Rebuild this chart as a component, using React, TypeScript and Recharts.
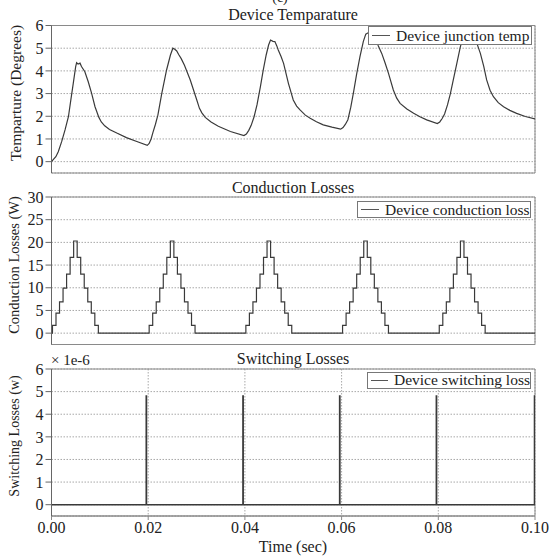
import React from 'react';
import { LineChart, Line, XAxis, YAxis, CartesianGrid, ReferenceArea } from 'recharts';

const FONT = '"Liberation Serif", "Times New Roman", serif';

const xTicks = [0, 0.02, 0.04, 0.06, 0.08, 0.1];
const tempTicks = [0, 1, 2, 3, 4, 5, 6];
const condTicks = [0, 5, 10, 15, 20, 25, 30];
const swTicks = [0, 1, 2, 3, 4, 5, 6];

// Device junction temperature (time in s, temperature in degrees)
const tempTime = [
  0, 0.0004, 0.0009, 0.0014, 0.0021, 0.0028, 0.0035, 0.004, 0.0045, 0.005, 0.0052, 0.0055, 0.0059, 0.0062, 0.0069, 0.0076, 0.0083, 0.009, 0.0098, 0.0103, 0.011, 0.012, 0.0135, 0.0155, 0.0175, 0.0198,
  0.0202, 0.0206, 0.021, 0.0215, 0.022, 0.0228, 0.0238, 0.0246, 0.0251, 0.0255, 0.0259, 0.0263, 0.0268, 0.0275, 0.0287, 0.03, 0.0306, 0.0311, 0.0318, 0.033, 0.0345, 0.037, 0.0398,
  0.0403, 0.0408, 0.0413, 0.0419, 0.0425, 0.0432, 0.0438, 0.0444, 0.0449, 0.0453, 0.0458, 0.0462, 0.0466, 0.0469, 0.0475, 0.048, 0.049, 0.05, 0.0507, 0.0514, 0.0525, 0.0535, 0.0548, 0.0562, 0.058, 0.0598,
  0.0603, 0.0608, 0.0613, 0.0619, 0.0625, 0.0631, 0.0638, 0.0645, 0.065, 0.0655, 0.066, 0.0665, 0.0669, 0.0676, 0.0683, 0.069, 0.0697, 0.0707, 0.0714, 0.0721, 0.0735, 0.0749, 0.0762, 0.0776, 0.0798,
  0.0803, 0.0808, 0.0813, 0.0819, 0.0825, 0.0831, 0.0838, 0.0845, 0.0852, 0.0857, 0.0862, 0.0868, 0.0873, 0.088, 0.0887, 0.0894, 0.09, 0.0907, 0.0914, 0.0924, 0.0935, 0.0948, 0.0962, 0.098, 0.1,
];
const tempValue = [
  0, 0.1, 0.22, 0.44, 0.88, 1.4, 1.98, 2.72, 3.45, 4.19, 4.36, 4.3, 4.34, 4.19, 3.96, 3.52, 3.01, 2.42, 1.95, 1.75, 1.58, 1.42, 1.26, 1.06, 0.9, 0.72,
  0.8, 1.0, 1.3, 1.65, 2.05, 3.0, 4.04, 4.7, 5.0, 4.95, 4.88, 4.72, 4.55, 4.25, 3.6, 2.75, 2.35, 2.15, 1.95, 1.75, 1.56, 1.33, 1.15,
  1.22, 1.38, 1.6, 1.98, 2.5, 3.3, 4.04, 4.7, 5.14, 5.36, 5.3, 5.29, 5.1, 4.92, 4.62, 4.33, 3.45, 2.72, 2.45, 2.28, 2.05, 1.91, 1.76, 1.62, 1.52, 1.43,
  1.5, 1.65, 1.85, 2.4, 3.1, 3.85, 4.63, 5.3, 5.62, 5.68, 5.7, 5.62, 5.5, 5.1, 4.77, 4.35, 3.89, 3.16, 2.8, 2.57, 2.32, 2.13, 1.98, 1.84, 1.68,
  1.75, 1.9, 2.1, 2.5, 3.0, 3.6, 4.3, 5.0, 5.6, 5.85, 5.9, 5.8, 5.66, 5.2, 4.77, 4.2, 3.6, 3.15, 2.86, 2.6, 2.42, 2.26, 2.13, 1.99, 1.88,
];

// Conduction loss: one staircase pulse per cycle
const cycleStarts = [0, 0.02, 0.04, 0.06, 0.08];
const pulseOffsets = [0, 0.0002, 0.00093, 0.00166, 0.00239, 0.00312, 0.00385, 0.00458, 0.00531, 0.00604, 0.00677, 0.0075, 0.00823, 0.00896, 0.00969];
const pulseLevels = [0, 1.7, 4.4, 6.9, 9.9, 13.0, 16.7, 20.3, 16.7, 13.0, 9.9, 6.9, 4.4, 1.7, 0];

// Switching loss spikes (x 1e-6 W)
const spikeTimes = [0.0196, 0.0396, 0.0596, 0.0796, 0.0999];
const spikeHeight = 4.8;
const spikeWidth = 0.00004;

const tempData = tempTime.map((t, i) => ({ t, v: tempValue[i] }));

const condData: { t: number; v: number }[] = [];
cycleStarts.forEach((c) => {
  pulseOffsets.forEach((o, i) => condData.push({ t: c + o, v: pulseLevels[i] }));
});
condData.push({ t: 0.1, v: 0 });

const swData: { t: number; v: number }[] = [{ t: 0, v: 0 }];
spikeTimes.forEach((s) => {
  swData.push({ t: s, v: 0 });
  swData.push({ t: s, v: spikeHeight });
  swData.push({ t: s + spikeWidth, v: spikeHeight });
  swData.push({ t: s + spikeWidth, v: 0 });
});
swData.push({ t: 0.1, v: 0 });

const LINE = '#3a3a3a';
const FRAME = '#8a8a8a';
const GRID = '#a8a8a8';

type PanelProps = {
  top: number;
  height: number;
  mTop: number;
  mBottom: number;
  data: { t: number; v: number }[];
  domain: [number, number];
  ticks: number[];
  showX: boolean;
  step?: boolean;
  width?: number;
};

function Panel(p: PanelProps) {
  return (
    <div style={{ position: 'absolute', left: 0, top: p.top, width: 549, height: p.height }}>
      <LineChart
        width={549}
        height={p.height}
        data={p.data}
        margin={{ top: p.mTop, right: 14, bottom: p.mBottom, left: 0 }}
      >
        <CartesianGrid stroke={GRID} strokeDasharray="1.5 1.5" />
        <ReferenceArea
          x1={0}
          x2={0.1}
          y1={p.domain[0]}
          y2={p.domain[1]}
          fill="none"
          fillOpacity={0}
          stroke={FRAME}
          strokeWidth={1}
          ifOverflow="visible"
        />
        <XAxis
          dataKey="t"
          type="number"
          domain={[0, 0.1]}
          ticks={xTicks}
          allowDataOverflow
          height={p.showX ? 30 : 0}
          tick={p.showX ? { fill: '#222', fontSize: 16, fontFamily: FONT } : false}
          tickLine={p.showX ? { stroke: FRAME } : false}
          tickSize={4}
          axisLine={{ stroke: FRAME }}
          tickFormatter={(v: number) => v.toFixed(2)}
          interval={0}
        />
        <YAxis
          type="number"
          domain={p.domain}
          ticks={p.ticks}
          allowDataOverflow
          width={51.5}
          tickSize={6}
          tickMargin={2}
          tick={{ fill: '#222', fontSize: 16, fontFamily: FONT }}
          tickLine={{ stroke: '#666' }}
          axisLine={{ stroke: '#666' }}
          interval={0}
        />
        <Line
          dataKey="v"
          type={p.step ? 'stepAfter' : 'linear'}
          stroke={LINE}
          strokeWidth={p.width ?? 1.2}
          dot={false}
          isAnimationActive={false}
        />
      </LineChart>
    </div>
  );
}

function LegendBox({ left, top, width, height, label }: { left: number; top: number; width: number; height: number; label: string }) {
  return (
    <div
      style={{
        position: 'absolute',
        left,
        top,
        width,
        height,
        boxSizing: 'border-box',
        border: '1px solid #777',
        background: '#fff',
        fontFamily: FONT,
        fontSize: 15.5,
        color: '#222',
        display: 'flex',
        alignItems: 'center',
        whiteSpace: 'nowrap',
        zIndex: 5,
      }}
    >
      <span style={{ display: 'inline-block', width: 18, height: 0, borderTop: '1.2px solid #555', marginLeft: 3, marginRight: 6 }} />
      <span style={{ lineHeight: 1 }}>{label}</span>
    </div>
  );
}

export default function App() {
  const txt = { fontFamily: FONT, fill: '#222' } as const;
  return (
    <div style={{ position: 'absolute', left: 0, top: 0, width: 549, height: 560, background: '#fff', overflow: 'hidden' }}>
      <Panel top={0} height={180} mTop={25.5} mBottom={7} data={tempData} domain={[-0.5, 6]} ticks={tempTicks} showX={false} />
      <Panel top={180} height={170} mTop={17} mBottom={5.5} data={condData} domain={[-2.5, 30]} ticks={condTicks} showX={false} step />
      <Panel top={350} height={210} mTop={19} mBottom={14} data={swData} domain={[-0.5, 6]} ticks={swTicks} showX width={1.6} />

      <svg width={549} height={560} style={{ position: 'absolute', left: 0, top: 0, pointerEvents: 'none', zIndex: 4 }}>
        <text x={280} y={2} textAnchor="middle" fontSize={14} {...txt}>(c)</text>
        <text x={293} y={20} textAnchor="middle" fontSize={16} {...txt}>Device Temparature</text>
        <text x={293} y={192.5} textAnchor="middle" fontSize={16} {...txt}>Conduction Losses</text>
        <text x={293} y={364} textAnchor="middle" fontSize={16} {...txt}>Switching Losses</text>
        <text x={51} y={365} fontSize={15} {...txt}>× 1e-6</text>
        <text x={293} y={552} textAnchor="middle" fontSize={16} {...txt}>Time (sec)</text>
        <text transform="translate(15,93) rotate(-90)" textAnchor="middle" dominantBaseline="central" fontSize={15.5} {...txt}>Temparture (Degrees)</text>
        <text transform="translate(13.5,265) rotate(-90)" textAnchor="middle" dominantBaseline="central" fontSize={14.5} {...txt}>Conduction Losses (W)</text>
        <text transform="translate(14,436) rotate(-90)" textAnchor="middle" dominantBaseline="central" fontSize={14} {...txt}>Switching Losses (w)</text>
      </svg>

      <LegendBox left={368} top={26} width={164} height={19} label="Device junction temp" />
      <LegendBox left={357} top={200.5} width={174} height={17.5} label="Device conduction loss" />
      <LegendBox left={367} top={371.5} width={164} height={17} label="Device switching loss" />
    </div>
  );
}
